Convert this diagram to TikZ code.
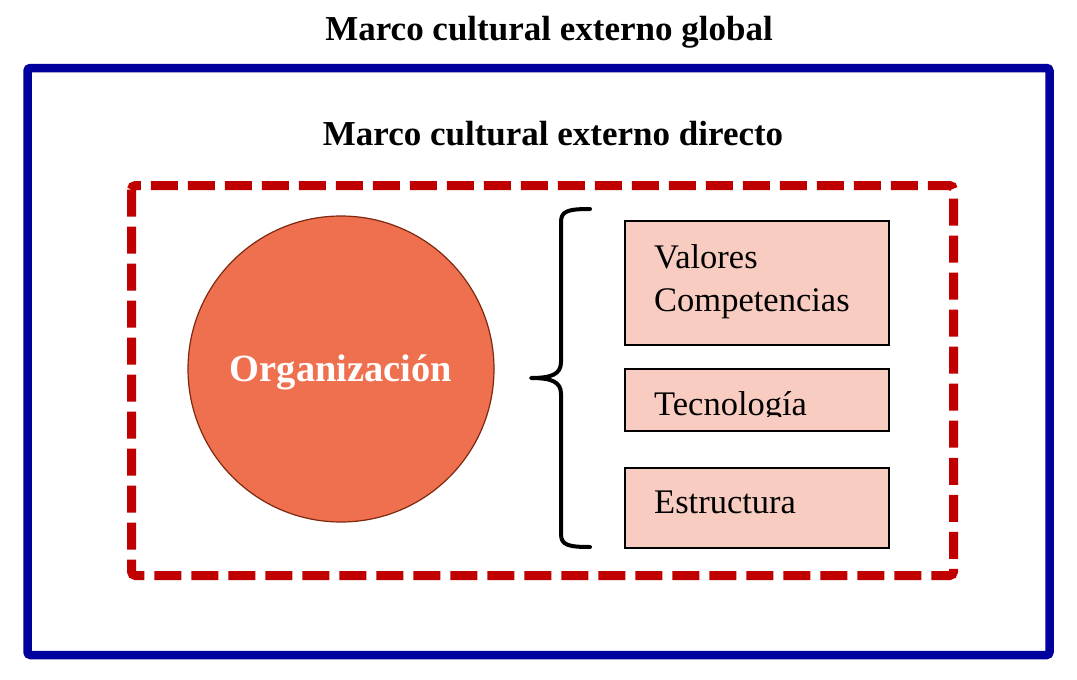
\documentclass[tikz,border=0pt]{standalone}
\usepackage{fontspec}
\setmainfont{Liberation Serif}
\definecolor{outerblue}{RGB}{0,0,158}
\definecolor{dashred}{RGB}{192,0,0}
\definecolor{circfill}{RGB}{239,112,78}
\definecolor{circline}{RGB}{125,40,15}
\definecolor{boxfill}{RGB}{248,204,192}
\begin{document}
\begin{tikzpicture}[x=1pt,y=-1pt,
  titletext/.style={font=\bfseries\fontsize{35}{38}\selectfont, inner sep=0pt, anchor=base},
  itemtext/.style={font=\fontsize{34.5}{38}\selectfont, inner sep=0pt, anchor=base west},
  itembox/.style={draw=black, line width=2.5pt, fill=boxfill}]
\useasboundingbox (0,0) rectangle (1077,680);
\fill[white] (0,0) rectangle (1077,680);
% outer frame
\draw[outerblue, line width=8.5pt, rounded corners=3pt] (27.5,68) rectangle (1049.5,655);
\node[titletext] (t1) at (549,40) {Marco cultural externo global};
\node[titletext] (t2) at (553,145) {Marco cultural externo directo};
% inner dashed frame
\draw[dashred, line width=9pt, rounded corners=4pt, dash pattern=on 27pt off 10pt] (131.5,185.5) rectangle (953.5,575.5);
% circle
\node[circle, draw=circline, line width=1.2pt, fill=circfill, minimum size=306pt, inner sep=0pt] (org) at (341,369) {};
\node[font=\bfseries\fontsize{38.5}{42}\selectfont, text=white, inner sep=0pt, anchor=base] (orgt) at (341,381) {Organización};
% boxes
\node[itembox, minimum width=264pt, minimum height=124pt, inner sep=0pt] (b1) at (757,283) {};
\node[itembox, minimum width=264pt, minimum height=62pt, inner sep=0pt] (b2) at (757,400) {};
\node[itembox, minimum width=264pt, minimum height=80pt, inner sep=0pt] (b3) at (757,508) {};
\node[itemtext] (v1) at (654,268) {Valores};
\node[itemtext] (v2) at (654,311) {Competencias};
\begin{scope}
\clip (600,360) rectangle (900,416);
\node[itemtext] (v3) at (654,415) {Tecnología};
\end{scope}
\node[itemtext] (v4) at (654,513) {Estructura};
% brace
\coordinate (btop) at (590,209);
\coordinate (btip) at (531,378);
\coordinate (bbot) at (590,547);
\draw[black, line width=4pt, line cap=round, line join=round]
  (btop) .. controls (568,209) and (561,211) .. (561,222)
  -- (561,362) .. controls (561,374) and (552,378) .. (btip)
  .. controls (552,378) and (561,382) .. (561,394)
  -- (561,534) .. controls (561,545) and (568,547) .. (bbot);
\end{tikzpicture}
\end{document}
